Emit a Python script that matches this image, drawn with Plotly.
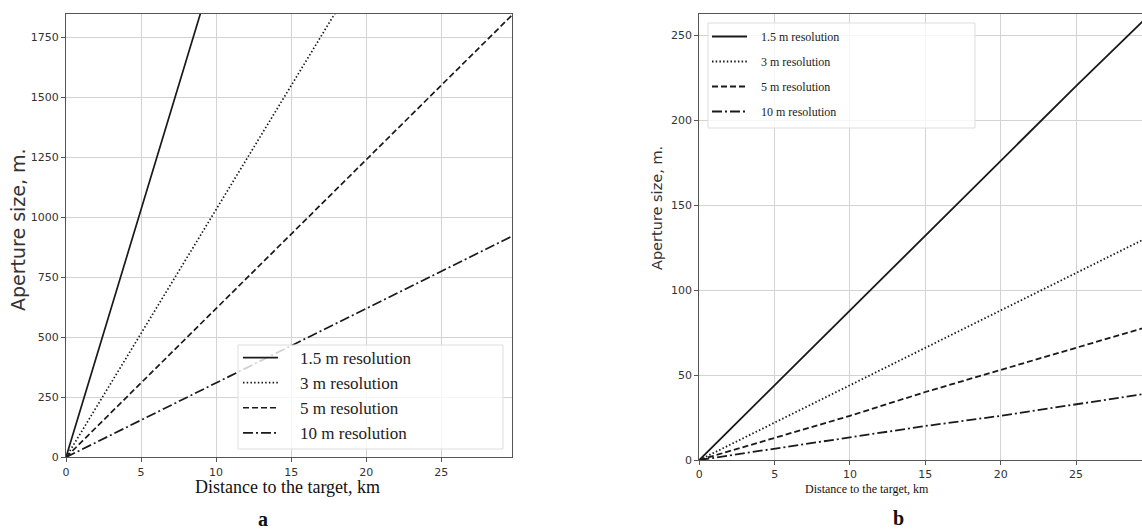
import plotly.graph_objects as go

# ---- data ----
distance_km = [0, 5, 10, 15, 20, 25, 30]

# panel a
a_res_1_5 = [0, 1030, 2070, 3100, 4130, 5170, 6200]
a_res_3 = [0, 515, 1035, 1550, 2065, 2585, 3100]
a_res_5 = [0, 310, 620, 930, 1240, 1550, 1860]
a_res_10 = [0, 155, 310, 465, 620, 775, 930]

# panel b
b_res_1_5 = [0, 44, 88, 132, 176, 220, 263]
b_res_3 = [0, 22, 44, 66, 88, 110, 132]
b_res_5 = [0, 13, 26, 40, 53, 66, 79]
b_res_10 = [0, 6.6, 13, 20, 26, 33, 39.5]

series_names = ["1.5 m resolution", "3 m resolution", "5 m resolution", "10 m resolution"]
x_ticks = [0, 5, 10, 15, 20, 25]
a_y_ticks = [0, 250, 500, 750, 1000, 1250, 1500, 1750]
b_y_ticks = [0, 50, 100, 150, 200, 250]

W, H = 1142, 529
dashes = ["solid", "1.5px,2.2px", "6px,3px", "10px,3px,2px,3px"]
line_color = "#1a1a1a"

fig = go.Figure()

for name, ys, d in zip(series_names, [a_res_1_5, a_res_3, a_res_5, a_res_10], dashes):
    fig.add_trace(go.Scatter(x=distance_km, y=ys, mode="lines", name="\u2002\u2002" + name,
                             line=dict(color=line_color, width=1.7, dash=d),
                             xaxis="x", yaxis="y", legend="legend"))

for i, (name, ys, d) in enumerate(zip(series_names, [b_res_1_5, b_res_3, b_res_5, b_res_10], dashes)):
    fig.add_trace(go.Scatter(x=distance_km, y=ys, mode="lines", name="\u2002\u00a0" + name,
                             line=dict(color=line_color, width=1.8, dash=d),
                             xaxis="x2", yaxis="y2", legend="legend2",
                             legendgroup="g%d" % i))

tick_font = dict(family="DejaVu Sans", size=11, color="#333333")
axis_common = dict(showgrid=True, gridcolor="#d3d3d3", gridwidth=1,
                   showline=True, linecolor="#555555", linewidth=1.2,
                   ticks="outside", ticklen=4, tickcolor="#555555", tickwidth=1,
                   tickfont=tick_font, zeroline=False, automargin=False)

def px_x(p):
    return p / W

def px_y(p):
    return 1 - p / H

fig.update_layout(
    width=W, height=H,
    margin=dict(l=0, r=0, t=0, b=0, pad=0, autoexpand=False),
    paper_bgcolor="white", plot_bgcolor="white",
    xaxis=dict(domain=[px_x(66), px_x(512)], range=[0, 29.71], tickvals=x_ticks,
               anchor="y", mirror=True, **axis_common),
    yaxis=dict(domain=[px_y(457.3), px_y(14)], range=[0, 1847], tickvals=a_y_ticks,
               anchor="x", mirror=True, **axis_common),
    xaxis2=dict(domain=[px_x(699.3), 1.0], range=[0, 29.38], tickvals=x_ticks,
                anchor="y2", mirror=True, **axis_common),
    yaxis2=dict(domain=[px_y(460), px_y(14)], range=[0, 262.4], tickvals=b_y_ticks,
                anchor="x2", mirror=False, **axis_common),
    legend=dict(x=px_x(238), y=px_y(340), xanchor="left", yanchor="top",
                bgcolor="rgba(0,0,0,0)", borderwidth=0, itemwidth=35,
                font=dict(family="Liberation Serif", size=17, color="#222222")),
    legend2=dict(x=px_x(707), y=px_y(22), xanchor="left", yanchor="top",
                 bgcolor="rgba(0,0,0,0)", borderwidth=0, itemwidth=35,
                 tracegroupgap=6,
                 font=dict(family="Liberation Serif", size=12, color="#222222")),
    showlegend=True,
)

# legend frames (matplotlib style, semi-transparent)
for (x0, y0, x1, y1) in [(238, 345, 503, 449), (708, 23, 975, 128)]:
    fig.add_shape(type="rect", xref="paper", yref="paper",
                  x0=px_x(x0), x1=px_x(x1), y0=px_y(y1), y1=px_y(y0),
                  line=dict(color="#dddddd", width=1),
                  fillcolor="rgba(255,255,255,0.8)", layer="above")

# axis titles and panel captions
def note(text, x, y, size, family, angle=0, color="#111111"):
    fig.add_annotation(text=text, x=px_x(x), y=px_y(y), xref="paper", yref="paper",
                       xanchor="center", yanchor="middle", textangle=angle,
                       showarrow=False, font=dict(family=family, size=size, color=color))

note("Distance to the target, km", 287, 487, 18, "Liberation Serif")
note("Distance to the target, km", 867, 489, 12, "Liberation Serif")
note("Aperture size, m.", 18, 230, 19, "DejaVu Sans", angle=-90, color="#333333")
note("Aperture size, m.", 657, 208, 14.5, "DejaVu Sans", angle=-90, color="#333333")
note("<b>a</b>", 263, 519, 20, "Liberation Serif")
note("<b>b</b>", 898, 518, 20, "Liberation Serif")

fig.write_html("out.html", config={"displayModeBar": False},
               post_script="document.body.style.margin='0';document.body.style.overflow='hidden';")
